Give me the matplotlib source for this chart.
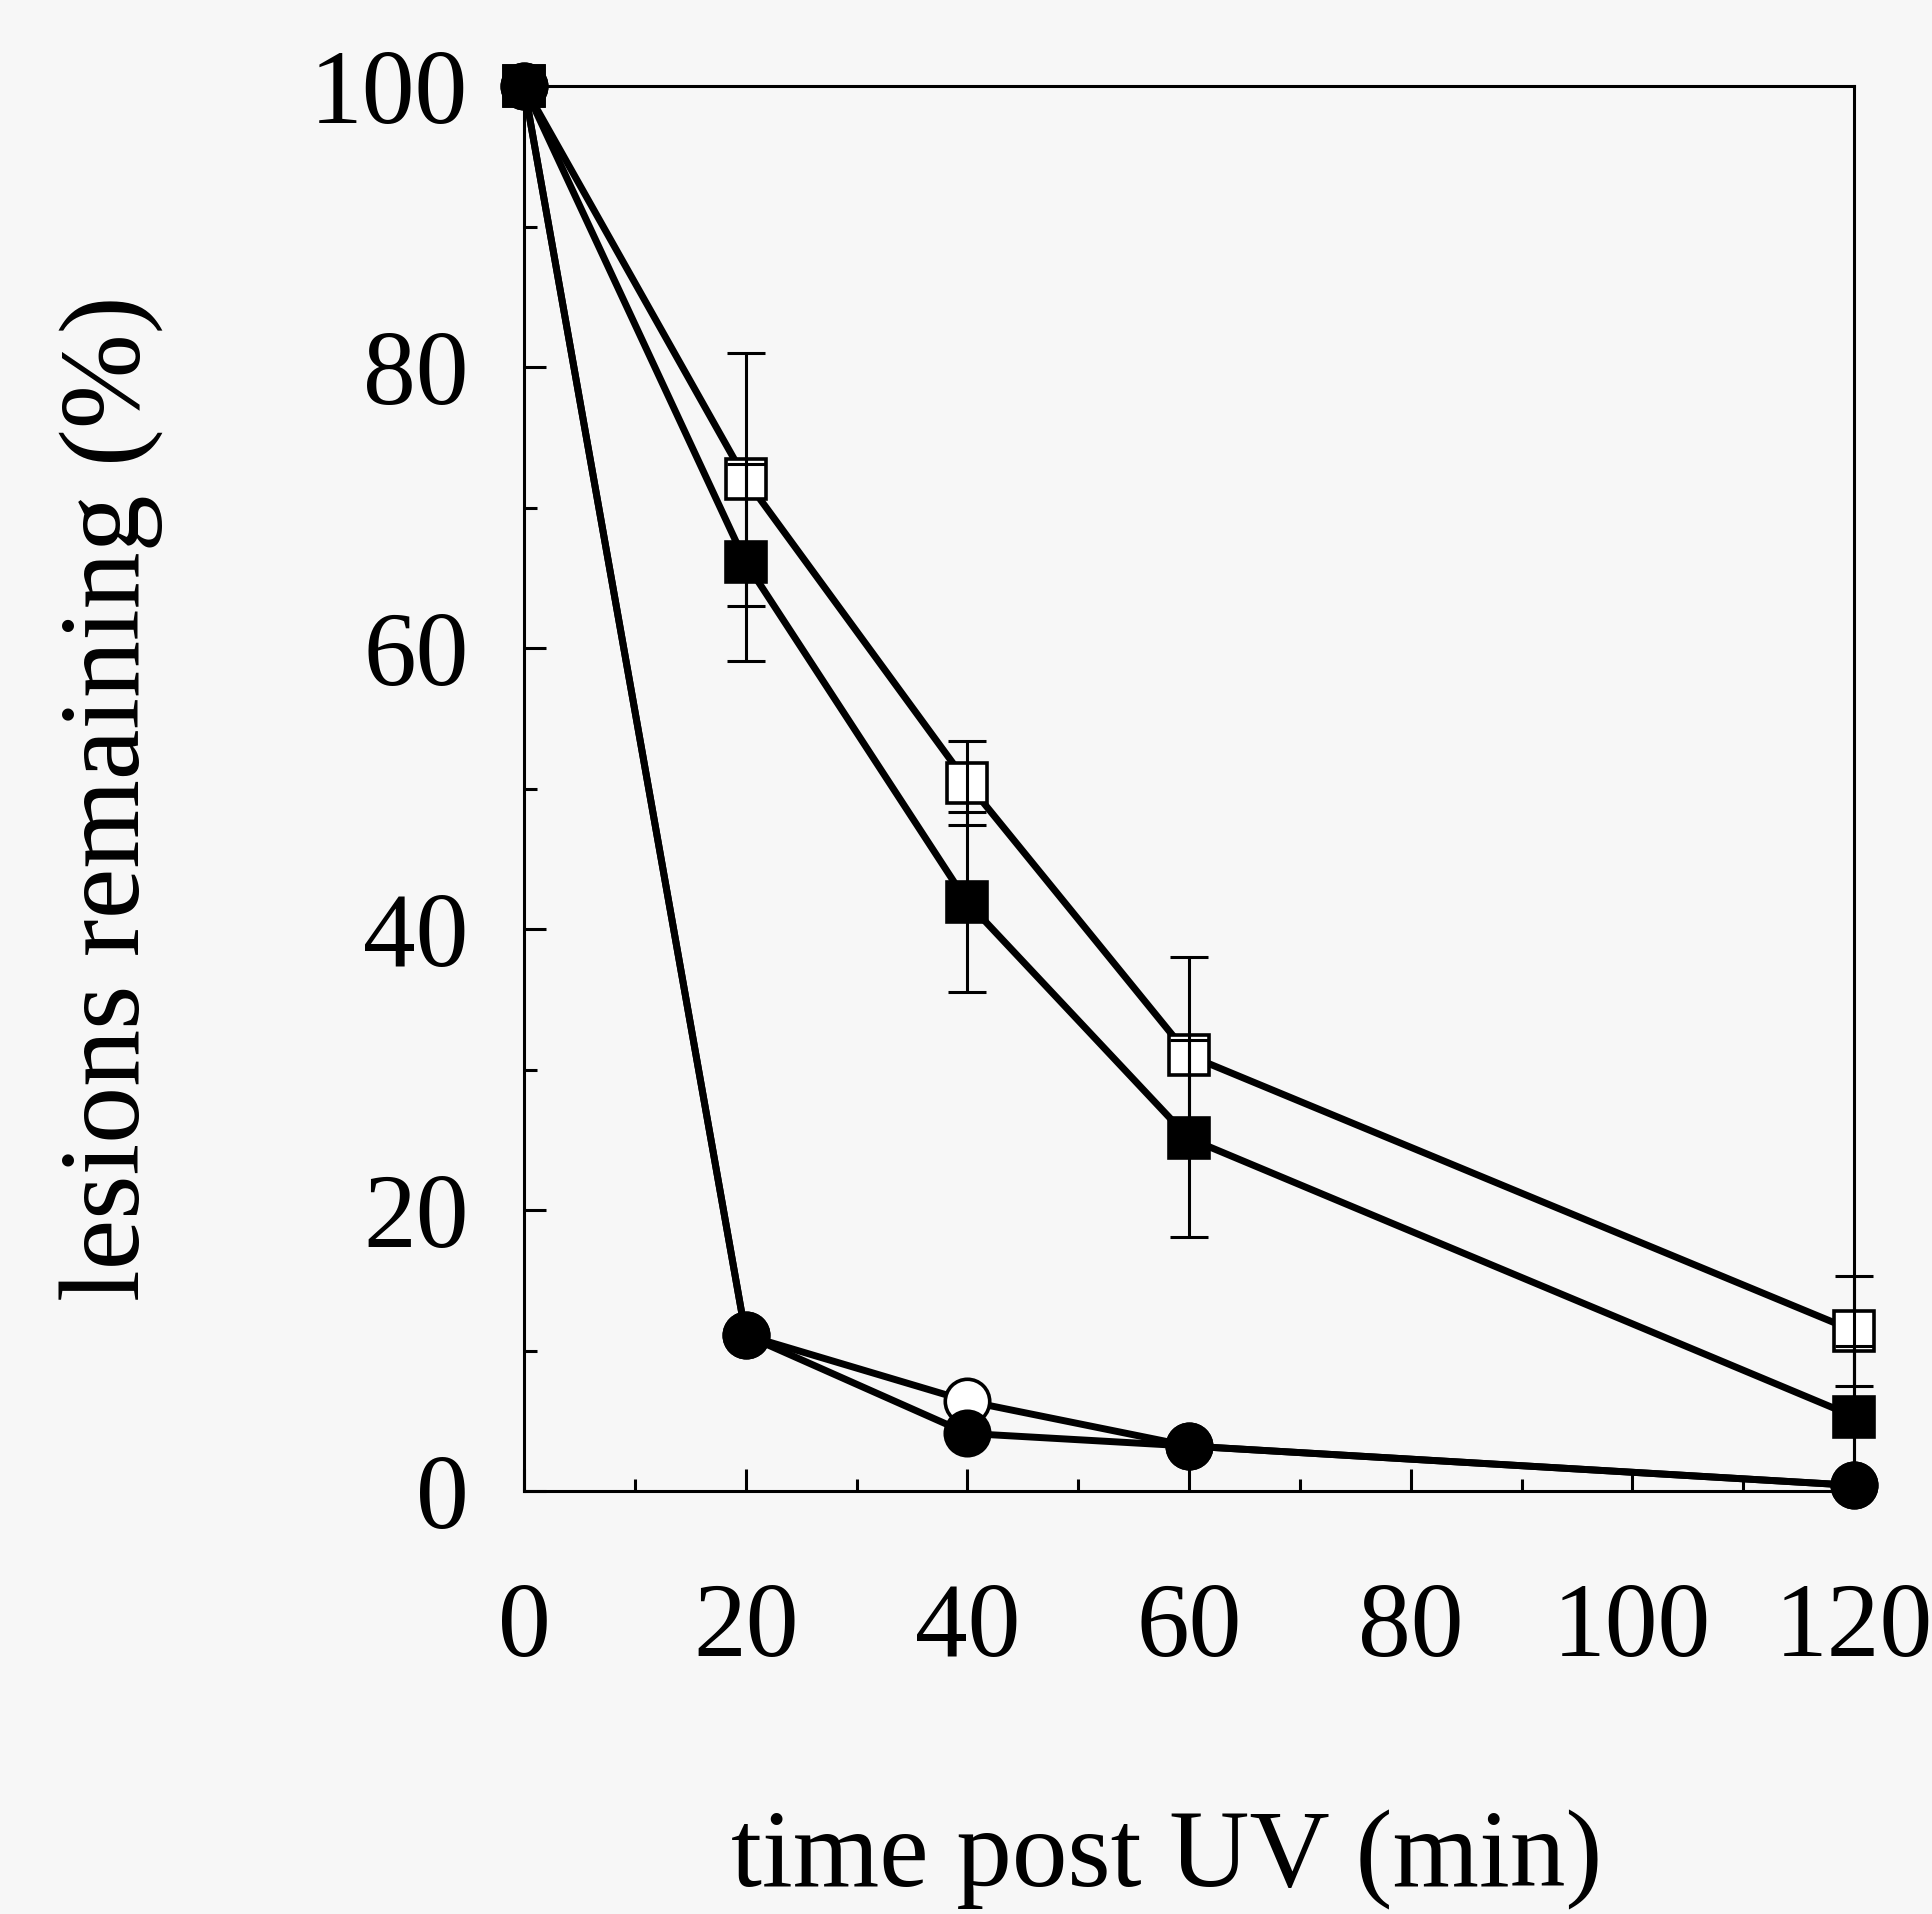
import matplotlib
matplotlib.use("Agg")
import matplotlib.pyplot as plt
from matplotlib.ticker import MultipleLocator

# ---- data ----
time_min = [0, 20, 40, 60, 120]

open_sq = [100, 72.0, 50.4, 31.0, 11.4]
open_sq_err = [0, 9.0, 3.0, 7.0, 3.9]

filled_sq = [100, 66.1, 41.9, 25.1, 5.3]
filled_sq_err = [0, 7.0, 6.4, 7.0, 5.0]

open_circ = [100, 11.1, 6.4, 3.2, 0.4]
filled_circ = [100, 11.1, 4.1, 3.2, 0.4]

x_ticks = [0, 20, 40, 60, 80, 100, 120]
y_ticks = [0, 20, 40, 60, 80, 100]
x_label = "time post UV (min)"
y_label = "lesions remaining (%)"

plt.rcParams['font.family'] = ['Liberation Serif', 'DejaVu Serif']

W, H, DPI = 1932, 1914, 100
fig = plt.figure(figsize=(W / DPI, H / DPI), dpi=DPI)
bg = '#f7f7f7'
fig.patch.set_facecolor(bg)

left, right, top, bottom = 524, 1854, 86, 1491
ax = fig.add_axes([left / W, 1 - bottom / H, (right - left) / W, (bottom - top) / H])
ax.set_facecolor(bg)

lw = 5.0
ms = 32
mew = 2.6

# lines + markers
ax.plot(time_min, open_circ, '-', color='black', lw=lw, marker='o', ms=ms,
        mfc='white', mec='black', mew=mew, clip_on=False, zorder=3)
ax.plot(time_min, filled_circ, '-', color='black', lw=lw, marker='o', ms=ms,
        mfc='black', mec='black', mew=mew, clip_on=False, zorder=3.5)
ax.plot(time_min, open_sq, '-', color='black', lw=lw, marker='s', ms=ms - 3,
        mfc='white', mec='black', mew=mew, clip_on=False, zorder=4)
ax.plot(time_min, filled_sq, '-', color='black', lw=lw, marker='s', ms=ms - 3,
        mfc='black', mec='black', mew=mew, clip_on=False, zorder=4.5)

# error bars (drawn over markers)
for y, e in ((open_sq, open_sq_err), (filled_sq, filled_sq_err)):
    ax.errorbar(time_min[1:], y[1:], yerr=e[1:], fmt='none', ecolor='black',
                elinewidth=2.2, capsize=14, capthick=2.2, zorder=5, clip_on=False)

ax.set_xlim(0, 120)
ax.set_ylim(0, 100)
ax.set_xticks(x_ticks)
ax.set_yticks(y_ticks)
ax.xaxis.set_minor_locator(MultipleLocator(10))
ax.yaxis.set_minor_locator(MultipleLocator(10))
ax.tick_params(which='both', direction='in', width=2.2, color='black')
ax.tick_params(which='major', length=16)
ax.tick_params(which='minor', length=9)
ax.tick_params(axis='x', which='major', labelsize=76, pad=66)
ax.tick_params(axis='y', which='major', labelsize=76, pad=40)

for s in ax.spines.values():
    s.set_linewidth(2.2)
    s.set_color('black')

ax.set_xlabel(x_label, fontsize=80)
ax.set_ylabel(y_label, fontsize=82)
ax.xaxis.set_label_coords((1167 - left) / (right - left), -(1886 - bottom) / (bottom - top))
ax.yaxis.set_label_coords(-(left - 111) / (right - left), (bottom - 798) / (bottom - top))
ax.xaxis.label.set_va('baseline')
ax.yaxis.label.set_va('center')

fig.savefig('out.png', dpi=DPI, facecolor=bg)
